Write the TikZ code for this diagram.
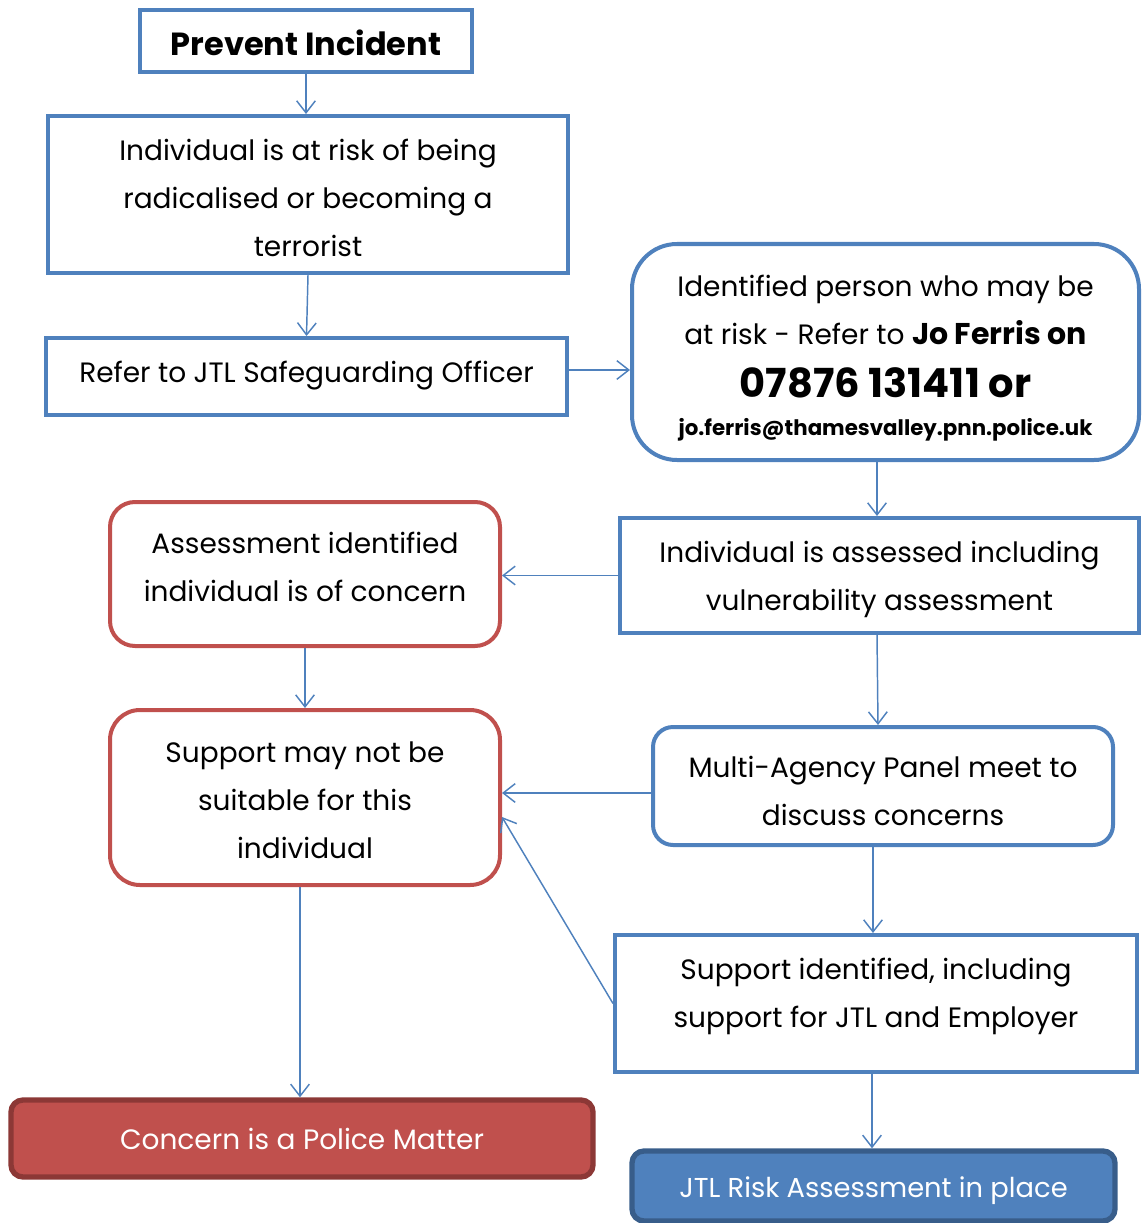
\documentclass[tikz,border=0pt]{standalone}
\usepackage{fontspec}
\setmainfont{Poppins}
\usetikzlibrary{arrows.meta}
\definecolor{bl}{HTML}{4F81BD}
\definecolor{dbl}{HTML}{385D8A}
\definecolor{rd}{HTML}{C0504D}
\definecolor{drd}{HTML}{8C3836}
\tikzset{
  lbl/.style={align=center, inner sep=0pt, font=\fontsize{21}{36}\selectfont},
  box/.style={draw=bl, line width=3pt, inner sep=0pt},
  rbox/.style={box, rounded corners=#1},
  redbox/.style={box, draw=rd, rounded corners=#1},
  fillbox/.style={line width=4pt, inner sep=0pt, rounded corners=9pt},
  arr/.style={draw=bl, line width=1.1pt, -{Straight Barb[length=9pt,width=14pt,line width=1.1pt]}}
}
\begin{document}
\begin{tikzpicture}[x=0.75pt,y=-0.75pt]
\useasboundingbox (0,0) rectangle (1141,1223);
\node[box, minimum width=249pt, minimum height=46.5pt,
  label={[lbl, yshift=-1.5pt, font=\fontsize{24}{36}\selectfont\bfseries]center:Prevent Incident}] (n1) at (306,41) {};
\node[box, minimum width=390pt, minimum height=117.75pt,
  label={[lbl, yshift=-2.25pt]center:{Individual is at risk of being\\radicalised or becoming a\\terrorist}}] (n2) at (308,194.5) {};
\node[box, minimum width=390.75pt, minimum height=57.75pt,
  label={[lbl, yshift=0.75pt]center:{Refer to JTL Safeguarding Officer}}] (n3) at (306.5,376.5) {};
\node[rbox=33.75pt, minimum width=380.25pt, minimum height=162pt,
  label={[lbl, yshift=-4.5pt]center:{Identified person who may be\\at risk - Refer to \textbf{\fontsize{22.5}{36}\selectfont Jo Ferris on}\\[4pt]\textbf{\fontsize{30}{36}\selectfont 07876 131411 or}\\[-8pt]\textbf{\fontsize{16}{30}\selectfont jo.ferris@thamesvalley.pnn.police.uk}}}] (n4) at (885.5,352) {};
\node[box, minimum width=389.25pt, minimum height=86.25pt,
  label={[lbl, yshift=-3pt]center:{Individual is assessed including\\vulnerability assessment}}] (n5) at (879.5,575.5) {};
\node[redbox=18.75pt, minimum width=292.5pt, minimum height=108pt,
  label={[lbl, yshift=5.25pt]center:{Assessment identified\\individual is of concern}}] (n6) at (305,574) {};
\node[rbox=15pt, minimum width=345pt, minimum height=88.5pt,
  label={[lbl, yshift=-3.75pt]center:{Multi-Agency Panel meet to\\discuss concerns}}] (n7) at (883,786) {};
\node[redbox=22.5pt, minimum width=292.5pt, minimum height=131.25pt,
  label={[lbl, yshift=-2.25pt]center:{Support may not be\\suitable for this\\individual}}] (n8) at (305,797.5) {};
\node[box, minimum width=391.5pt, minimum height=102.75pt,
  label={[lbl, yshift=5.25pt]center:{Support identified, including\\support for JTL and Employer}}] (n9) at (876,1003.5) {};
\node[fillbox, draw=drd, fill=rd, minimum width=436.5pt, minimum height=57.75pt,
  label={[lbl, text=white]center:{Concern is a Police Matter}}] (n10) at (302,1138.5) {};
\node[fillbox, draw=dbl, fill=bl, minimum width=362.25pt, minimum height=52.5pt,
  label={[lbl, text=white, yshift=-3.75pt, font=\fontsize{20.5}{36}\selectfont]center:{JTL Risk Assessment in place}}] (n11) at (873.5,1186) {};
% connectors
\draw[arr] (n1.south) -- (n1.south |- n2.north);
\draw[arr] (n2.south) -- (n3.north);
\coordinate (c34) at (567,370);
\draw[arr] (c34) -- (c34 -| n4.west);
\draw[arr] (n4.south -| 877,0) -- (n5.north -| 877,0);
\draw[arr] (n5.west) -- (n5.west -| n6.east);
\draw[arr] (n6.south) -- (n8.north);
\draw[arr] (n5.south -| 877,0) -- (n7.north -| 878,0);
\coordinate (c78) at (653,793);
\draw[arr] (c78) -- (c78 -| n8.east);
\coordinate (c98) at (502,817);
\draw[arr] (n9.west) -- (c98);
\draw[arr] (n7.south -| 873,0) -- (n9.north -| 873,0);
\draw[arr] (n8.south -| 300,0) -- (n10.north -| 300,0);
\draw[arr] (n9.south -| 872,0) -- (n11.north -| 872,0);
\end{tikzpicture}
\end{document}
